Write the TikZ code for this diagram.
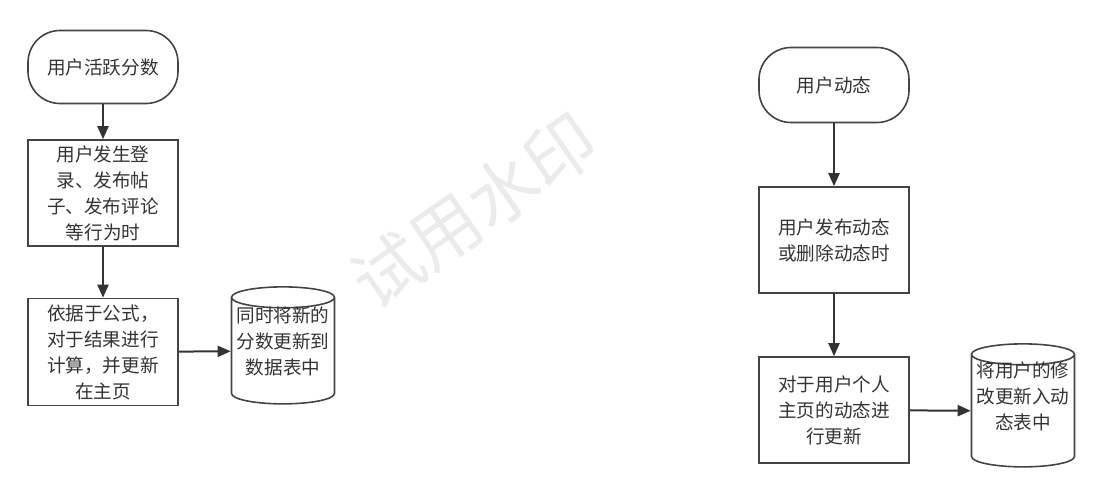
\documentclass[tikz,border=0pt]{standalone}
\usepackage{fontspec}
\setmainfont{Noto Sans CJK SC}
\usetikzlibrary{shapes.geometric,arrows.meta}
\definecolor{linegray}{HTML}{444444}
\definecolor{markgray}{HTML}{EBEBEB}

\begin{document}
\begin{tikzpicture}
[x=1pt,y=-1pt, line width=1.6pt]
\tikzstyle{every node}=[font=\fontsize{18.6}{26}\selectfont, text=black!80, align=center]
\tikzstyle{terminal}=[draw=linegray, rounded corners=32pt, minimum width=150pt]
\tikzstyle{process}=[draw=linegray, minimum width=150pt, minimum height=106pt]
\tikzstyle{datastore}=[draw=linegray, cylinder, shape border rotate=90, aspect=0.22, text width=95pt, minimum width=103pt, minimum height=117pt, inner sep=0pt]
\tikzstyle{flow}=[draw=black!80, line width=2pt, -{Triangle[width=11pt,length=13pt]}]
\useasboundingbox (0,0) rectangle (1101,501);

% watermark
\node[text=markgray, font=\fontsize{70}{70}\selectfont, rotate=35] (mark) at (474,211) {试用水印};

% left chart
\node[terminal, minimum height=73pt] (score) at (103,67) {用户活跃分数};
\node[process] (act) at (103,193) {用户发生登\\录、发布帖\\子、发布评论\\等行为时};
\node[process, minimum height=107pt] (calc) at (103,352) {依据于公式，\\对于结果进行\\计算，并更新\\在主页};
\node[datastore] (scoredb) at (283,351) {};
\node (scoretext) at (283,341) {同时将新的\\分数更新到\\数据表中};
\draw[flow] (score) -- (act);
\draw[flow] (act) -- (calc);
\draw[flow] (calc) -- (scoredb);

% right chart
\node[terminal, minimum height=75pt] (feed) at (834,85) {用户动态};
\node[process] (post) at (834,240) {用户发布动态\\或删除动态时};
\node[process] (home) at (834,410) {对于用户个人\\主页的动态进\\行更新};
\node[datastore, minimum height=123pt] (feeddb) at (1023,411) {};
\node (feedtext) at (1023,396) {将用户的修\\改更新入动\\态表中};
\draw[flow] (feed) -- (post);
\draw[flow] (post) -- (home);
\draw[flow] (home) -- (feeddb);
\end{tikzpicture}
\end{document}
